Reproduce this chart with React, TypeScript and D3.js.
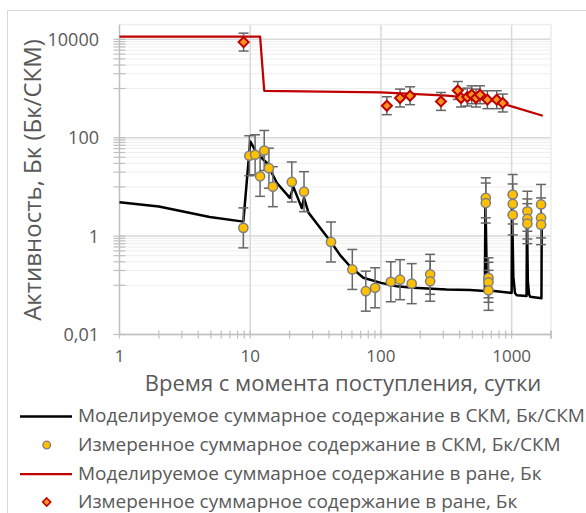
import * as d3 from 'd3';

const W = 586, H = 513;

// Моделируемое содержание в СКМ (чёрная линия)
const skmModelT = [1, 2, 4.9, 8.86, 10, 11.2, 13.4, 16, 20.1, 21.4, 24.8, 25.8, 27.9, 32.3, 41.5, 48.7, 58, 73.3, 100, 132, 177, 318, 481, 624, 630, 648, 1000, 1006, 1030, 1060, 1094, 1300, 1310, 1330, 1360, 1385, 1690, 1700];
const skmModelV = [4.9, 4.0, 2.45, 1.97, 84, 49, 30.6, 12, 6.0, 10, 3.7, 6.0, 3.0, 1.8, 0.76, 0.41, 0.244, 0.142, 0.112, 0.096, 0.089, 0.082, 0.08, 0.077, 6.0, 0.079, 0.07, 5.0, 0.15, 0.07, 0.063, 0.0605, 2.5, 0.12, 0.065, 0.0588, 0.0545, 3.0];

// Измеренное содержание в СКМ (жёлтые точки)
const skmMeasT = [8.86, 9.84, 10.9, 11.9, 12.8, 13.9, 14.9, 20.8, 25.8, 41.5, 60.4, 76.6, 90.2, 119, 140, 172, 238, 238, 634, 634, 665, 665, 665, 1019, 1019, 1019, 1319, 1319, 1319, 1679, 1679, 1679];
const skmMeasV = [1.47, 43, 45, 16.4, 55, 24, 10.1, 12.6, 8.0, 0.76, 0.21, 0.076, 0.089, 0.118, 0.13, 0.108, 0.167, 0.121, 6.0, 4.7, 0.142, 0.115, 0.079, 7.0, 4.5, 2.7, 3.2, 2.23, 1.79, 4.4, 2.34, 1.71];
const SKM_ERR = 2.55;

// Моделируемое содержание в ране (красная линия)
const woundModelT = [1, 11.9, 12.8, 100, 319, 684, 1000, 1730];
const woundModelV = [11400, 11400, 900, 832, 713, 592, 433, 280];

// Измеренное содержание в ране (ромбы)
const woundMeasT = [8.9, 111, 140, 167, 288, 387, 410, 458, 495, 534, 573, 652, 769, 855];
const woundMeasV = [8770, 447, 640, 713, 546, 912, 640, 670, 747, 640, 747, 592, 592, 507];
const WOUND_ERR = 1.52;

const yTickVals = [0.01, 1, 100, 10000];
const yTickLabels = ['0,01', '1', '100', '10000'];
const xTickVals = [1, 10, 100, 1000];
const xTickLabels = ['1', '10', '100', '1000'];

const legendItems = [
  'Моделируемое суммарное содержание в СКМ, Бк/СКМ',
  'Измеренное суммарное содержание в СКМ, Бк/СКМ',
  'Моделируемое суммарное содержание в ране, Бк',
  'Измеренное суммарное содержание в ране, Бк',
];

const FONT = "'Open Sans', sans-serif";
const TXT = '#595959';

export default function App() {
  const x = d3.scaleLog().domain([1, 2000]).range([119.5, 551]);
  const y = d3.scaleLog().domain([0.01, 20000]).range([334.5, 24.5]);
  const [x0, x1] = x.range();
  const [y0, y1] = y.range();

  const yMinor: number[] = [];
  for (const M of [1, 100, 10000]) for (let k = 1; k <= 9; k++) yMinor.push((M * k) / 10);
  const xMinor: number[] = [];
  for (const p of [1, 10, 100, 1000]) for (let k = 2; k <= 9; k++) if (p * k <= 2000) xMinor.push(p * k);

  const line = d3.line<[number, number]>().x(d => x(d[0])).y(d => y(d[1]));
  const skmLine = line(skmModelT.map((t, i) => [t, skmModelV[i]]));
  const woundLine = line(woundModelT.map((t, i) => [t, woundModelV[i]]));

  const diamond = (cx: number, cy: number, r: number) =>
    `M${cx},${cy - r}L${cx + r},${cy}L${cx},${cy + r}L${cx - r},${cy}Z`;

  const errBar = (t: number, v: number, f: number, key: string) => {
    const cx = x(t), top = y(v * f), bot = y(v / f);
    return (
      <g key={key} stroke="#666" strokeWidth={1.5}>
        <line x1={cx} x2={cx} y1={top} y2={bot} />
        <line x1={cx - 5} x2={cx + 5} y1={top} y2={top} />
        <line x1={cx - 5} x2={cx + 5} y1={bot} y2={bot} />
      </g>
    );
  };

  const legendY = [416.5, 445, 474, 502];

  return (
    <svg width={W} height={H} style={{ position: 'absolute', left: 0, top: 0, background: '#fff' }}>
      <rect x={7.5} y={10.5} width={620} height={540} fill="#fff" stroke="#d9d9d9" />

      {/* minor grid */}
      {yMinor.map(v => (
        <line key={'ym' + v} x1={x0} x2={x1} y1={y(v)} y2={y(v)} stroke="#eeeeee" strokeWidth={1} />
      ))}
      {/* major grid */}
      {yTickVals.map(v => (
        <line key={'yg' + v} x1={x0} x2={x1} y1={y(v)} y2={y(v)} stroke="#d9d9d9" strokeWidth={1.5} />
      ))}
      {xTickVals.slice(1).map(v => (
        <line key={'xg' + v} x1={x(v)} x2={x(v)} y1={y0} y2={y1} stroke="#d9d9d9" strokeWidth={1.5} />
      ))}
      <line x1={x0} x2={x1} y1={y1} y2={y1} stroke="#ededed" strokeWidth={1.5} />
      <line x1={x1} x2={x1} y1={y1} y2={y0} stroke="#ededed" strokeWidth={1.5} />

      {/* axes */}
      <line x1={x0} x2={x0} y1={y0} y2={y1} stroke="#bfbfbf" strokeWidth={1.5} />
      <line x1={x0} x2={x1} y1={y0} y2={y0} stroke="#bfbfbf" strokeWidth={1.5} />
      {[...yMinor, ...yTickVals].map(v => (
        <line key={'yt' + v} x1={x0 - 6} x2={x0 + 6} y1={y(v)} y2={y(v)} stroke="#bfbfbf" strokeWidth={1.2} />
      ))}
      {[...xMinor, ...xTickVals, 2000].map(v => (
        <line key={'xt' + v} x1={x(v)} x2={x(v)} y1={y0 - 4} y2={y0 + 4} stroke="#bfbfbf" strokeWidth={1.2} />
      ))}

      {yTickVals.map((v, i) => (
        <text key={'yl' + v} x={99} y={y(v)} dy="0.36em" textAnchor="end" fontFamily={FONT} fontSize={18} fill={TXT}>
          {yTickLabels[i]}
        </text>
      ))}
      {xTickVals.map((v, i) => (
        <text key={'xl' + v} x={x(v)} y={362} textAnchor="middle" fontFamily={FONT} fontSize={17} fill={TXT}>
          {xTickLabels[i]}
        </text>
      ))}
      <text x={343} y={390.5} textAnchor="middle" fontFamily={FONT} fontSize={22} fill={TXT}>
        Время с момента поступления, сутки
      </text>
      <text transform="translate(41,180) rotate(-90)" textAnchor="middle" fontFamily={FONT} fontSize={24} fill={TXT}>
        Активность, Бк (Бк/СКМ)
      </text>

      {/* SKM series */}
      <path d={skmLine || ''} fill="none" stroke="#000" strokeWidth={2.5} strokeLinejoin="round" />
      {skmMeasT.map((t, i) => errBar(t, skmMeasV[i], SKM_ERR, 'se' + i))}
      {skmMeasT.map((t, i) => (
        <circle key={'sc' + i} cx={x(t)} cy={y(skmMeasV[i])} r={4.6} fill="#ffc000" stroke="#7f7f7f" strokeWidth={1.5} />
      ))}

      {/* wound series */}
      <path d={woundLine || ''} fill="none" stroke="#c00000" strokeWidth={2.25} strokeLinejoin="round" />
      {woundMeasT.map((t, i) => errBar(t, woundMeasV[i], WOUND_ERR, 'we' + i))}
      {woundMeasT.map((t, i) => (
        <path key={'wd' + i} d={diamond(x(t), y(woundMeasV[i]), 5)} fill="#f7941d" stroke="#c00000" strokeWidth={2} />
      ))}

      {/* legend */}
      <line x1={20} x2={72} y1={legendY[0]} y2={legendY[0]} stroke="#000" strokeWidth={2.5} />
      <circle cx={46.7} cy={legendY[1]} r={3.8} fill="#ffc000" stroke="#7f7f7f" strokeWidth={1.3} />
      <line x1={20} x2={72} y1={legendY[2]} y2={legendY[2]} stroke="#c00000" strokeWidth={2.25} />
      <path d={diamond(46.7, legendY[3], 4)} fill="#f7941d" stroke="#c00000" strokeWidth={1.6} />
      {legendItems.map((s, i) => (
        <text key={'lg' + i} x={78} y={legendY[i] + 5.5} fontFamily={FONT} fontSize={19} fill={TXT}>
          {s}
        </text>
      ))}
    </svg>
  );
}
